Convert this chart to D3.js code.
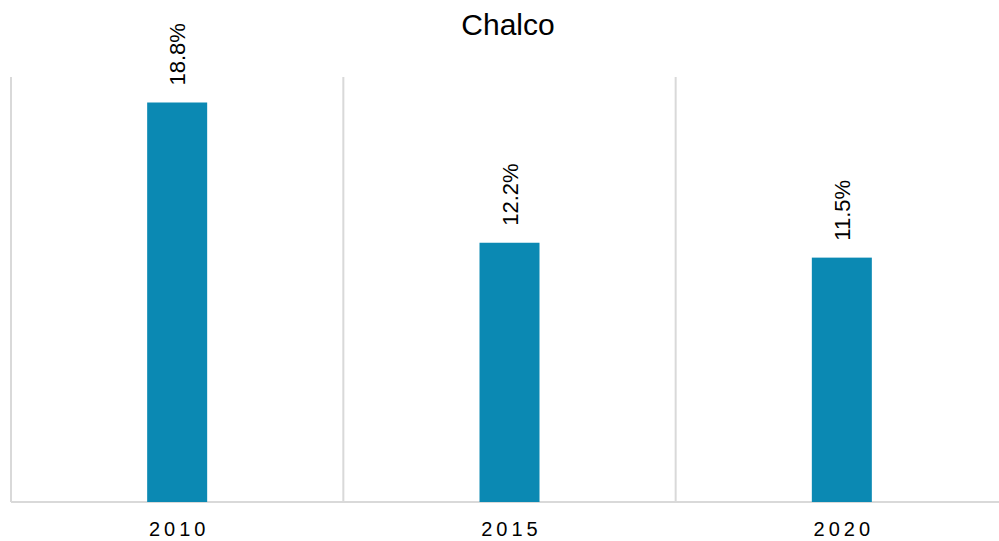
<!DOCTYPE html>
<html>
<head>
<meta charset="utf-8">
<script src="https://cdn.jsdelivr.net/npm/d3@7"></script>
<style>
  body { margin: 0; background: #fff; }
  text { font-family: "Liberation Sans", Arial, sans-serif; }
</style>
</head>
<body>
<div id="chart"></div>
<script>
// chart data
const years = ["2010", "2015", "2020"];
const values = [18.8, 12.2, 11.5];
const chartTitle = "Chalco";

const width = 999, height = 541;
const margin = {top: 77, right: -9, bottom: 39, left: 11};
const innerW = width - margin.left - margin.right;
const innerH = height - margin.top - margin.bottom;

let svg = d3.select("#chart").append("svg")
    .attr("width", width).attr("height", height);

svg.append("text")
    .attr("x", 508).attr("y", 35)
    .attr("text-anchor", "middle")
    .attr("font-size", 30)
    .attr("fill", "#000")
    .text(chartTitle);

let g = svg.append("g").attr("transform", `translate(${margin.left},${margin.top})`);

let x = d3.scaleBand().domain(years).range([0, innerW]);
let y = d3.scaleLinear().domain([0, 20]).range([innerH, 0]);

// vertical separators between categories
let bounds = years.map(d => x(d)).concat([innerW]);
g.selectAll("line.sep").data(bounds).enter()
    .append("line")
    .attr("class", "sep")
    .attr("x1", d => d).attr("x2", d => d)
    .attr("y1", 0).attr("y2", innerH)
    .attr("stroke", "#d9d9d9")
    .attr("stroke-width", 2);

// baseline
g.append("line")
    .attr("x1", 0).attr("x2", innerW)
    .attr("y1", innerH).attr("y2", innerH)
    .attr("stroke", "#d9d9d9")
    .attr("stroke-width", 2);

let barW = 60;
g.selectAll("rect.bar").data(values).enter()
    .append("rect")
    .attr("class", "bar")
    .attr("x", (d, i) => x(years[i]) + x.bandwidth() / 2 - barW / 2)
    .attr("y", d => y(d))
    .attr("width", barW)
    .attr("height", d => innerH - y(d))
    .attr("fill", "#0b89b3");

// value labels, rotated
g.selectAll("text.val").data(values).enter()
    .append("text")
    .attr("class", "val")
    .attr("transform", (d, i) => `translate(${x(years[i]) + x.bandwidth() / 2 + 8},${y(d) - 17}) rotate(-90)`)
    .attr("font-size", 22)
    .attr("fill", "#000")
    .text(d => d.toFixed(1) + "%");

// category labels
g.selectAll("text.cat").data(years).enter()
    .append("text")
    .attr("class", "cat")
    .attr("x", d => x(d) + x.bandwidth() / 2 + 2)
    .attr("y", innerH + 34)
    .attr("text-anchor", "middle")
    .attr("font-size", 20)
    .attr("letter-spacing", 4)
    .attr("fill", "#000")
    .text(d => d);
</script>
</body>
</html>
